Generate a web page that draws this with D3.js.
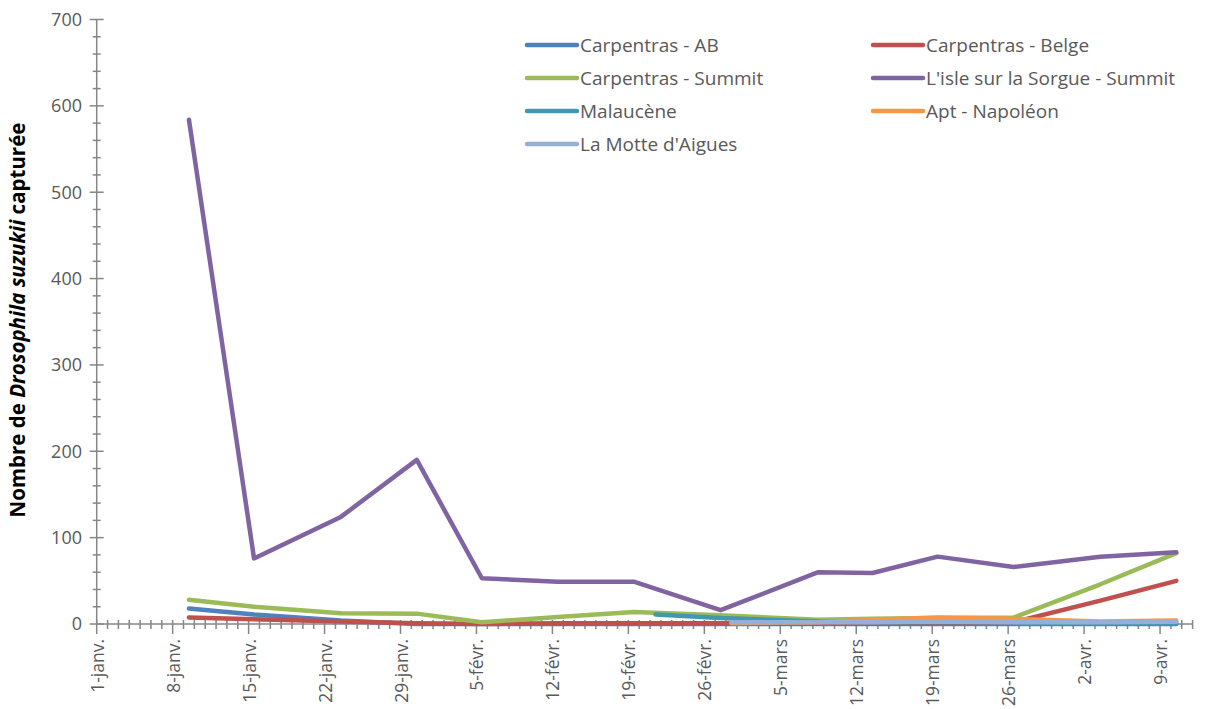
<!DOCTYPE html>
<html><head><meta charset="utf-8">
<script src="https://cdn.jsdelivr.net/npm/d3@7/dist/d3.min.js"></script>
<style>
body{margin:0;background:#fff;}
svg{display:block;font-family:"Open Sans",Lato,sans-serif;}
</style></head>
<body><svg id="c" width="1217" height="709"></svg>
<script>
// ---- data ----
const seriesNames = ["Carpentras - AB","Carpentras - Belge","Carpentras - Summit","L'isle sur la Sorgue - Summit","Malaucène","Apt - Napoléon","La Motte d'Aigues"];
const seriesColors = ["#4F81BD","#C0504D","#9BBB59","#8064A2","#4198AF","#F79646","#95B0D8"];

const datesMain = ["2013-01-09","2013-01-15","2013-01-23","2013-01-30","2013-02-05","2013-02-12","2013-02-19","2013-02-27","2013-03-08","2013-03-13","2013-03-19","2013-03-26","2013-04-03","2013-04-10"];
const datesMalaucene = ["2013-02-21","2013-02-27","2013-03-08","2013-03-13","2013-03-19","2013-03-26","2013-04-03","2013-04-10"];
const datesLate = ["2013-02-28","2013-03-08","2013-03-13","2013-03-19","2013-03-26","2013-04-03","2013-04-10"];

const valuesAB     = [18, 11, 4, 0, 0, 0, 0, 0, 0, 0, 0, 0, 0, 0];
const valuesBelge  = [7.5, 5.5, 3, 1, 0, 1, 1, 1, 0.5, 1, 1, 2, 27, 50];
const valuesSummit = [28, 20, 12.5, 12, 2, 8, 14, 10, 5, 6, 7, 7.5, 46, 82];
const valuesIsle   = [584, 76, 124, 190, 53, 49, 49, 16, 60, 59, 78, 66, 78, 83];
const valuesMalaucene = [11, 7, 3, 2, 2, 2, 1, 1];
const valuesApt    = [1, 2, 5, 7.5, 6, 3, 4];
const valuesMotte  = [2, 2, 2, 3, 2, 2, 2.5];

const xTickLabels = ["1-janv.","8-janv.","15-janv.","22-janv.","29-janv.","5-févr.","12-févr.","19-févr.","26-févr.","5-mars","12-mars","19-mars","26-mars","2-avr.","9-avr."];
const yTicks = [0,100,200,300,400,500,600,700];

const seriesDefs = [
  {dates: datesMain, values: valuesAB},
  {dates: datesMain, values: valuesBelge},
  {dates: datesMain, values: valuesSummit},
  {dates: datesMain, values: valuesIsle},
  {dates: datesMalaucene, values: valuesMalaucene},
  {dates: datesLate, values: valuesApt},
  {dates: datesLate, values: valuesMotte}
];

// ---- chart ----
const svg = d3.select("#c");
const parse = d3.utcParse("%Y-%m-%d");
const start = parse("2013-01-01"), end = parse("2013-04-12");
const x = d3.scaleUtc().domain([start, end]).range([96.7, 1192.6]);
const y = d3.scaleLinear().domain([0, 700]).range([624, 19.5]);
const dayW = x(d3.utcDay.offset(start, 1)) - x(start);
const axisColor = "#868686", textColor = "#595959";

// Y axis
const gy = svg.append("g");
gy.append("line").attr("x1", x(start)).attr("x2", x(start)).attr("y1", y(700)).attr("y2", y(0)).attr("stroke", axisColor).attr("stroke-width", 1.5);
const yMinor = d3.range(0, 701, 20);
gy.selectAll(".ym").data(yMinor).join("line")
  .attr("x1", d => x(start) - (d % 100 === 0 ? 7 : 4)).attr("x2", d => x(start) + (d % 100 === 0 ? 7 : 4))
  .attr("y1", d => y(d)).attr("y2", d => y(d)).attr("stroke", axisColor).attr("stroke-width", 1.5);
gy.selectAll(".yl").data(yTicks).join("text")
  .attr("x", 82).attr("y", d => y(d)).attr("dy", "0.35em").attr("text-anchor", "end")
  .attr("fill", textColor).style("font-size", "18px").text(d => d);

// X axis
const gx = svg.append("g");
gx.append("line").attr("x1", x(start)).attr("x2", x(end)).attr("y1", y(0)).attr("y2", y(0)).attr("stroke", axisColor).attr("stroke-width", 1.5);
const days = d3.utcDay.range(start, d3.utcDay.offset(end, 1));
const weekly = days.filter((d,i) => i % 7 === 0 && i <= 98);
gx.selectAll(".xm").data(days).join("line")
  .attr("x1", d => x(d)).attr("x2", d => x(d))
  .attr("y1", y(0) - 4).attr("y2", (d,i) => y(0) + (i % 7 === 0 && i <= 98 ? 10 : 5))
  .attr("stroke", axisColor).attr("stroke-width", 1.5);
gx.selectAll(".xl").data(weekly).join("text")
  .attr("transform", d => `translate(${x(d)},639) rotate(-90)`)
  .attr("dy", "0.4em").attr("text-anchor", "end")
  .attr("fill", textColor).style("font-size", "17.5px")
  .text((d,i) => xTickLabels[i]);

// axis title
const title = svg.append("text")
  .attr("transform", "translate(25,320) rotate(-90)")
  .attr("text-anchor", "middle").attr("fill", "#000")
  .style("font-size", "20.5px").style("font-weight", "bold");
title.append("tspan").text("Nombre de ");
title.append("tspan").style("font-style", "italic").text("Drosophila suzukii");
title.append("tspan").text(" capturée");

// lines
const line = d3.line().x(p => x(p[0]) + dayW / 2).y(p => y(p[1]));
seriesDefs.forEach((s, i) => {
  const pts = s.dates.map((d, j) => [parse(d), s.values[j]]);
  svg.append("path").datum(pts).attr("d", line)
    .attr("fill", "none").attr("stroke", seriesColors[i]).attr("stroke-width", 4.5)
    .attr("stroke-linejoin", "round").attr("stroke-linecap", "round");
});

// legend
const legPos = [[527,45],[873,45],[527,78],[873,78],[527,111],[873,111],[527,144]];
seriesNames.forEach((n, i) => {
  const [lx, ly] = legPos[i];
  svg.append("line").attr("x1", lx).attr("x2", lx + 50).attr("y1", ly).attr("y2", ly)
    .attr("stroke", seriesColors[i]).attr("stroke-width", 4.5).attr("stroke-linecap", "round");
  svg.append("text").attr("x", lx + 53).attr("y", ly).attr("dy", "0.35em")
    .attr("fill", textColor).style("font-size", "19px").text(n);
});
</script></body></html>
